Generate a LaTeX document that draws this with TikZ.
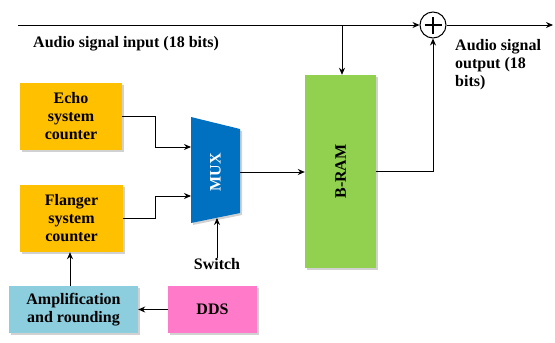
\documentclass[tikz,border=0pt]{standalone}
\usepackage{fontspec}
\setmainfont{Liberation Serif}
\usetikzlibrary{arrows.meta,shadows,calc}
\definecolor{orangeY}{RGB}{255,192,0}
\definecolor{ampblue}{RGB}{140,205,222}
\definecolor{ddspink}{RGB}{255,122,200}
\definecolor{ramgreen}{RGB}{146,208,80}
\definecolor{muxblue}{RGB}{0,112,192}
\tikzset{
  x=1pt, y=-1pt,
  lbl/.style={font=\fontsize{16}{18}\selectfont\bfseries, inner sep=0pt},
  blk/.style={lbl, align=center, draw=none, inner sep=0pt,
    drop shadow={shadow xshift=2pt, shadow yshift=-2pt, fill=black, opacity=0.18}},
  arr/.style={-{Stealth[length=7pt,width=6pt]}, line width=1pt, black},
}
\begin{document}
\begin{tikzpicture}
\useasboundingbox (0,0) rectangle (555,343);
% blocks
\node[blk, fill=orangeY, minimum width=102pt, minimum height=67pt] (echo) at (71,116) {Echo\\system\\counter};
\node[blk, fill=orangeY, minimum width=103pt, minimum height=67pt] (flanger) at (71.5,218.5) {Flanger\\system\\counter};
\node[blk, fill=ampblue, minimum width=129pt, minimum height=47pt] (amp) at (73.5,309.5) {Amplification\\and rounding};
\node[blk, fill=ddspink, minimum width=89pt, minimum height=47pt] (dds) at (212.5,309.5) {DDS};
\node[blk, fill=ramgreen, minimum width=71pt, minimum height=193pt] (bram) at (340.5,171.5) {};
\node[lbl, rotate=90] at (bram.center) {B-RAM};
% MUX
\fill[muxblue, drop shadow={shadow xshift=2pt, shadow yshift=-2pt, fill=black, opacity=0.18}] (191,117) -- (240,129) -- (240,213) -- (191,223) -- cycle;
\node[minimum width=49pt, minimum height=80pt, inner sep=0pt] (mux) at (215.5,172) {};
\node[lbl, text=white, rotate=90] at (mux.center) {MUX};
\coordinate (in1) at (191,147);
\coordinate (in2) at (191,196);
\coordinate (muxbot) at (217,218);
% sum
\node[circle, draw, line width=1pt, minimum size=26pt, inner sep=0pt, fill=white,
  path picture={
    \draw[line width=1.6pt] ([xshift=-8.5pt]path picture bounding box.center) -- ([xshift=8.5pt]path picture bounding box.center);
    \draw[line width=1.6pt] ([yshift=-8.5pt]path picture bounding box.center) -- ([yshift=8.5pt]path picture bounding box.center);
  }] (sum) at (433,25) {};
% labels
\node[lbl, anchor=west] (inlbl) at (33,44) {Audio signal input (18 bits)};
\node[lbl, anchor=north west, align=left] (outlbl) at (455,39) {Audio signal\\output (18\\bits)};
\node[lbl] (switch) at (217,264) {Switch};
% connectors
\coordinate (inStart) at (18,25);
\coordinate (outEnd) at (553,25);
\coordinate (br) at (342,25);
\draw[arr] (inStart) -- (sum.west);
\draw[arr] (sum.east) -- (outEnd);
\draw[arr] (br) -- (br |- bram.north);
\draw[arr] (bram.east) -| (sum.south);
\draw[arr] (echo.east) -- ++(33,0) |- (in1);
\draw[arr] (flanger.east) -- ++(32,0) |- (in2);
\draw[arr] (mux.east) -- (mux.east -| bram.west);
\draw[arr] (switch.north) -- (muxbot);
\draw[arr] (dds.west) -- (amp.east);
\draw[arr] ([xshift=-3.5pt]amp.north) -- ([xshift=-3.5pt]amp.north |- flanger.south);
\end{tikzpicture}
\end{document}
